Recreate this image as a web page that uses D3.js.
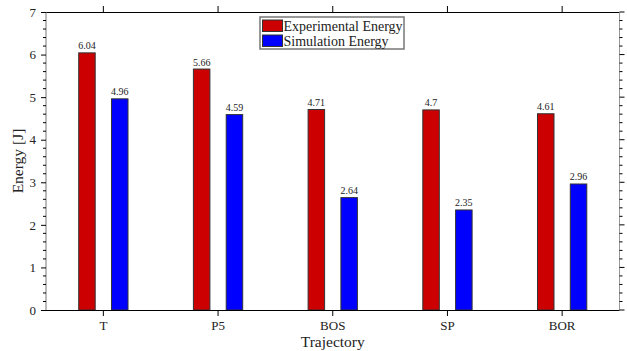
<!DOCTYPE html>
<html>
<head>
<meta charset="utf-8">
<script src="https://cdn.jsdelivr.net/npm/d3@7"></script>
<style>
  html, body { margin: 0; padding: 0; background: #fff; }
  svg { display: block; }
  svg text { font-family: "Liberation Serif", "DejaVu Serif", serif; }
</style>
</head>
<body>
<svg id="chart" width="627" height="351"></svg>
<script>
// Energy per trajectory: measured vs simulated
const categories = ["T", "P5", "BOS", "SP", "BOR"];
const experimental = [6.04, 5.66, 4.71, 4.7, 4.61];
const simulation = [4.96, 4.59, 2.64, 2.35, 2.96];
const seriesNames = ["Experimental Energy", "Simulation Energy"];
const seriesColors = ["#cc0000", "#0000ff"];
const yTicks = [0, 1, 2, 3, 4, 5, 6, 7];

const FONT = "Liberation Serif, DejaVu Serif, serif";
const svg = d3.select("#chart");
const margin = { top: 12, right: 7.5, bottom: 41, left: 46 };
const W = 627, H = 351;
const innerW = W - margin.left - margin.right;
const innerH = H - margin.top - margin.bottom;

const g = svg.append("g").attr("transform", `translate(${margin.left},${margin.top})`);

const x = d3.scaleBand().domain(categories).range([0, innerW]).padding(0);
const y = d3.scaleLinear().domain([0, 7]).range([innerH, 0]);

const barW = 16.5;
const offset = 16.4;

const series = [experimental, simulation];

// bars with value labels
series.forEach((vals, si) => {
  const cx = c => x(c) + x.bandwidth() / 2 + (si === 0 ? -offset : offset);
  const rows = categories.map((c, i) => ({ c, v: vals[i] }));
  g.append("g").selectAll("rect")
    .data(rows)
    .join("rect")
    .attr("x", d => cx(d.c) - barW / 2)
    .attr("y", d => y(d.v))
    .attr("width", barW)
    .attr("height", d => innerH - y(d.v))
    .attr("fill", seriesColors[si])
    .attr("stroke", "#333")
    .attr("stroke-width", 1);

  g.append("g").selectAll("text")
    .data(rows)
    .join("text")
    .attr("x", d => cx(d.c))
    .attr("y", d => y(d.v) - 3.5)
    .attr("text-anchor", "middle")
    .attr("font-family", FONT)
    .attr("font-size", 10)
    .attr("fill", "#222")
    .text(d => d.v);
});

// frame
g.append("line").attr("x1", 0).attr("x2", innerW).attr("y1", 0.5).attr("y2", 0.5)
  .attr("stroke", "#000").attr("stroke-width", 1.2);
g.append("line").attr("x1", 0).attr("x2", 0).attr("y1", 0).attr("y2", innerH)
  .attr("stroke", "#777").attr("stroke-width", 1);
g.append("line").attr("x1", innerW).attr("x2", innerW).attr("y1", 0).attr("y2", innerH)
  .attr("stroke", "#999").attr("stroke-width", 1);

// left axis with minor ticks
const minor = d3.range(0, 7.001, 0.2).filter(v => Math.abs(v - Math.round(v)) > 1e-6);
const leftAxis = g.append("g").call(d3.axisLeft(y).tickValues(yTicks).tickSize(5).tickFormat(d3.format("d")));
leftAxis.select(".domain").remove();
leftAxis.selectAll("text").attr("font-size", 13).attr("font-family", FONT).attr("fill", "#222").attr("dx", "-2");
g.append("g").selectAll("line").data(minor).join("line")
  .attr("x1", -3).attr("x2", 0).attr("y1", d => y(d)).attr("y2", d => y(d))
  .attr("stroke", "#000");

// right axis ticks (outward)
g.append("g").attr("transform", `translate(${innerW},0)`)
  .selectAll("line").data(yTicks.concat(minor)).join("line")
  .attr("x1", 0).attr("x2", d => yTicks.includes(d) ? 5 : 3)
  .attr("y1", d => y(d)).attr("y2", d => y(d))
  .attr("stroke", "#000");

// bottom axis
const bottomAxis = g.append("g").attr("transform", `translate(0,${innerH})`)
  .call(d3.axisBottom(x).tickSize(6).tickPadding(5));
bottomAxis.select(".domain").attr("stroke", "#000").attr("stroke-width", 1.2)
  .attr("d", `M0,0.5H${innerW}`);
bottomAxis.selectAll("text").attr("font-size", 13).attr("font-family", FONT).attr("fill", "#222");

// top axis ticks
const topAxis = g.append("g").call(d3.axisTop(x).tickSize(6).tickFormat(""));
topAxis.select(".domain").remove();

// axis titles
svg.append("text")
  .attr("x", margin.left + innerW / 2).attr("y", 347)
  .attr("text-anchor", "middle").attr("font-family", FONT).attr("font-size", 15.5).attr("fill", "#222")
  .text("Trajectory");
svg.append("text")
  .attr("transform", `translate(23,${margin.top + innerH / 2}) rotate(-90)`)
  .attr("text-anchor", "middle").attr("font-family", FONT).attr("font-size", 15.5).attr("fill", "#222")
  .text("Energy [J]");

// legend
const legend = svg.append("g").attr("transform", "translate(260,17)");
legend.append("rect").attr("x", 0).attr("y", 0).attr("width", 144).attr("height", 32)
  .attr("fill", "#fff").attr("stroke", "#777").attr("stroke-width", 1.5);
seriesNames.forEach((name, i) => {
  legend.append("rect").attr("x", 2.5).attr("y", 3 + i * 15).attr("width", 20).attr("height", 11.5)
    .attr("fill", seriesColors[i]).attr("stroke", "#333").attr("stroke-width", 1);
  legend.append("text").attr("x", 23.5).attr("y", 13.5 + i * 15)
    .attr("font-family", FONT).attr("font-size", 14).attr("fill", "#222").text(name);
});
</script>
</body>
</html>
